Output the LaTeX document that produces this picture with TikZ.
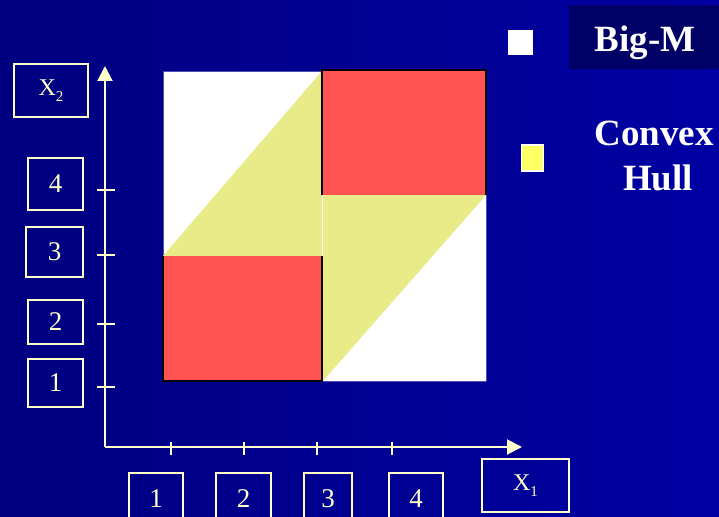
\documentclass[tikz,border=0pt]{standalone}
\usepackage{fontspec}
\setmainfont{Liberation Serif}
\usetikzlibrary{arrows.meta,positioning,calc}
\definecolor{cream}{HTML}{FFFFCC}
\definecolor{navyA}{HTML}{000080}
\definecolor{navyB}{HTML}{0000A2}
\definecolor{bigmbg}{HTML}{000066}
\definecolor{redbox}{HTML}{FF5252}
\definecolor{hullyel}{HTML}{E8EB88}
\definecolor{legyel}{HTML}{FFFF66}
\newcommand{\xsub}[2]{{\fontsize{24}{24}\selectfont #1\raisebox{-6pt}{\fontsize{15}{15}\selectfont #2}}}

\begin{document}
\begin{tikzpicture}[x=1pt,y=-1pt,>={Triangle[width=15pt,length=15pt]},
    lbl/.style={draw=cream,line width=2pt,text=cream,inner sep=0pt,font=\fontsize{27}{27}\selectfont,minimum width=55pt,minimum height=46pt},
    axis/.style={draw=cream,line width=2pt},
    legend/.style={text=white,font=\bfseries\fontsize{37}{37}\selectfont,anchor=base}]
    \useasboundingbox (0,0) rectangle (719,516);
    \clip (0,0) rectangle (719,516);
    \shade[left color=navyA,right color=navyB] (0,0) rectangle (719,516);
    % region
    \fill[white,draw=gray!60!blue,line width=0.8pt] (163,71) rectangle (486,381);
    \fill[hullyel] (163,256) -- (322,71) -- (322,256) -- cycle;
    \fill[hullyel] (323,195) -- (486,195) -- (323,381) -- cycle;
    \fill[redbox] (322,70) rectangle (486,195);
    \fill[redbox] (163,256) rectangle (322,381);
    \draw[black,line width=1.5pt] (163,256) -- (163,381) -- (322,381) -- (322,256);
    \draw[black,line width=1.5pt] (322,195) -- (322,70) -- (486,70) -- (486,195);
    % axes
    \coordinate (o) at (105,447);
    \coordinate (ytip) at (105,66);
    \coordinate (xtip) at (522,447);
    \draw[axis,->] (o) -- (ytip);
    \draw[axis,->] (o) -- (xtip);
    \foreach \y in {190,255,324,387} \draw[axis] (97,\y) -- (115,\y);
    \foreach \x in {171,244,317,392} \draw[axis] (\x,441.5) -- (\x,454.5);
    % labels
    \node[lbl,minimum width=74pt,minimum height=53pt] (x2) at (51,90.5) {\xsub{X}{2}};
    \node[lbl,minimum height=52pt] (y4) at (55.5,184) {4};
    \node[lbl,minimum width=57pt,minimum height=50pt] (y3) at (54.5,252) {3};
    \node[lbl,minimum height=44pt] (y2) at (55.5,322) {2};
    \node[lbl,minimum height=48pt] (y1) at (55.5,383) {1};
    \node[lbl,minimum width=54pt,minimum height=52pt] (b1) at (156,499) {1};
    \node[lbl,minimum height=52pt] (b2) at (243.5,499) {2};
    \node[lbl,minimum width=48pt,minimum height=52pt] (b3) at (328,499) {3};
    \node[lbl,minimum width=54pt,minimum height=52pt] (b4) at (416,499) {4};
    \node[lbl,minimum width=87pt,minimum height=53pt] (x1) at (525.5,485.5) {\xsub{X}{1}};
    % legend
    \fill[bigmbg] (569,5) rectangle (719,69);
    \node[draw=white,fill=white,minimum size=24pt,inner sep=0pt] (bigsq) at (520,42) {};
    \node[draw=white,fill=legyel,line width=1.5pt,minimum width=22pt,minimum height=26pt,inner sep=0pt] (hullsq) at (532.5,158) {};
    \node[legend] (bigm) at (645,52) {Big-M};
    \node[legend] (cvx) at (654,145) {Convex};
    \node[legend] (hull) at (658,190) {Hull};
\end{tikzpicture}
\end{document}
